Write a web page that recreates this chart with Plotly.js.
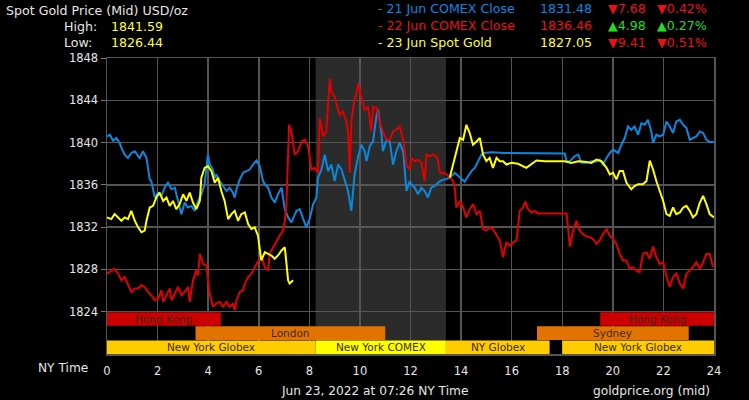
<!DOCTYPE html>
<html>
<head>
<meta charset="utf-8">
<script src="https://cdn.plot.ly/plotly-3.0.1.min.js"></script>
<style>
html,body{margin:0;padding:0;background:#000;}
#chart{width:749px;height:400px;}
</style>
</head>
<body>
<div id="chart"></div>
<script>
// ---- Data (NY time in hours, price USD/oz) ----
const blueHours = [0.00,0.11,0.24,0.37,0.50,0.57,0.70,0.83,0.96,1.10,1.23,1.29,1.42,1.56,1.62,1.69,1.75,1.82,1.89,2.02,2.15,2.28,2.41,2.55,2.68,2.81,2.94,3.07,3.20,3.34,3.47,3.60,3.73,3.86,3.93,3.99,4.06,4.19,4.26,4.32,4.46,4.59,4.72,4.85,4.98,5.05,5.12,5.25,5.38,5.51,5.64,5.77,5.91,6.04,6.17,6.24,6.37,6.50,6.63,6.76,6.90,7.03,7.16,7.29,7.49,7.62,7.75,7.88,8.01,8.15,8.28,8.34,8.48,8.61,8.74,8.87,9.00,9.14,9.27,9.40,9.53,9.66,9.79,9.93,10.06,10.19,10.26,10.39,10.52,10.66,10.72,10.85,10.91,11.05,11.18,11.31,11.44,11.57,11.71,11.84,11.97,12.03,12.17,12.30,12.43,12.56,12.69,12.82,12.96,13.09,13.22,13.35,13.55,13.75,13.95,14.14,14.28,14.41,14.54,14.67,14.80,14.93,15.20,15.73,16.39,17.04,18.10,18.17,18.30,18.49,18.63,18.76,18.95,19.15,19.35,19.48,19.61,19.75,19.88,20.01,20.21,20.34,20.47,20.60,20.73,20.86,21.00,21.13,21.26,21.39,21.52,21.59,21.72,21.85,21.99,22.12,22.25,22.38,22.51,22.65,22.78,22.91,23.04,23.17,23.30,23.44,23.57,23.70,23.83,24.00];
const blueValues = [1840.58,1840.74,1840.18,1840.43,1839.96,1839.49,1838.86,1838.55,1839.02,1839.18,1838.71,1838.55,1839.18,1838.55,1837.61,1836.52,1836.36,1835.42,1834.80,1835.26,1834.95,1835.73,1836.20,1835.58,1835.73,1834.48,1833.23,1834.33,1833.86,1834.01,1833.54,1834.48,1835.11,1836.05,1837.61,1838.86,1837.92,1837.45,1836.67,1836.99,1836.36,1835.89,1835.42,1835.73,1835.26,1834.80,1835.58,1836.52,1837.14,1837.30,1837.45,1837.92,1838.30,1837.77,1836.36,1836.05,1835.73,1834.80,1834.33,1835.11,1835.73,1833.70,1832.92,1832.45,1833.54,1833.70,1832.92,1831.98,1832.76,1834.17,1834.80,1836.67,1837.45,1838.86,1837.30,1837.92,1836.36,1837.92,1837.45,1836.52,1835.42,1833.54,1836.99,1838.71,1839.80,1839.18,1838.24,1839.65,1840.11,1842.62,1843.09,1840.90,1839.18,1840.27,1840.11,1837.92,1839.18,1839.96,1839.18,1835.42,1836.36,1836.05,1835.73,1835.11,1835.73,1835.42,1834.80,1835.73,1835.89,1836.20,1836.42,1836.52,1836.67,1837.14,1836.67,1836.30,1836.83,1837.30,1837.61,1838.24,1838.86,1839.02,1839.08,1839.02,1838.99,1838.96,1838.96,1838.24,1838.24,1838.71,1838.86,1838.08,1838.08,1838.24,1838.18,1838.39,1837.92,1838.55,1839.02,1839.33,1839.02,1839.80,1840.43,1841.52,1841.21,1841.52,1840.74,1841.84,1841.68,1842.15,1841.05,1839.96,1840.74,1840.58,1840.74,1841.99,1841.52,1840.90,1841.99,1842.15,1841.68,1841.37,1840.27,1840.43,1840.58,1841.05,1840.90,1840.27,1840.05,1840.05];

const redHours = [0.00,0.11,0.30,0.44,0.57,0.70,0.83,0.96,1.10,1.23,1.36,1.49,1.62,1.75,1.89,2.02,2.15,2.22,2.35,2.48,2.55,2.68,2.81,2.94,3.07,3.20,3.27,3.40,3.53,3.60,3.67,3.80,3.93,4.06,4.19,4.32,4.46,4.59,4.72,4.85,4.98,5.05,5.12,5.25,5.38,5.45,5.58,5.71,5.84,5.97,6.10,6.24,6.37,6.43,6.57,6.70,6.83,6.96,7.03,7.09,7.16,7.20,7.29,7.36,7.42,7.55,7.69,7.82,7.95,8.08,8.21,8.34,8.41,8.48,8.54,8.67,8.74,8.81,8.87,9.00,9.14,9.20,9.33,9.46,9.53,9.60,9.66,9.79,9.86,9.93,10.06,10.19,10.32,10.45,10.52,10.66,10.78,10.91,11.05,11.18,11.31,11.44,11.57,11.71,11.84,11.97,12.03,12.17,12.30,12.43,12.56,12.63,12.76,12.89,13.02,13.09,13.16,13.29,13.42,13.55,13.68,13.75,13.81,13.95,14.08,14.21,14.34,14.47,14.61,14.74,14.87,15.00,15.13,15.26,15.40,15.53,15.66,15.79,15.93,16.06,16.19,16.32,16.45,16.54,16.65,16.78,16.91,17.04,17.57,18.17,18.23,18.30,18.43,18.56,18.69,18.89,19.09,19.22,19.35,19.48,19.61,19.75,19.88,20.01,20.14,20.27,20.40,20.54,20.67,20.80,20.93,21.06,21.19,21.33,21.46,21.59,21.72,21.85,21.99,22.12,22.25,22.38,22.51,22.65,22.78,22.91,23.04,23.17,23.30,23.44,23.57,23.70,23.83,23.96];
const redValues = [1827.60,1827.75,1828.06,1827.60,1826.97,1827.28,1826.50,1825.87,1826.19,1826.19,1826.50,1826.34,1825.87,1825.56,1825.09,1825.25,1826.03,1824.93,1825.56,1826.19,1825.09,1825.72,1826.34,1825.56,1825.87,1826.34,1824.93,1826.97,1827.91,1827.44,1829.47,1828.53,1828.38,1825.72,1824.47,1824.78,1824.93,1824.47,1824.93,1824.47,1824.78,1824.15,1825.09,1825.87,1826.03,1826.66,1827.28,1827.60,1828.22,1828.85,1829.32,1828.22,1827.91,1829.47,1830.10,1830.73,1831.20,1831.67,1832.60,1833.86,1838.86,1841.68,1841.05,1839.80,1838.86,1839.18,1840.11,1840.27,1839.65,1837.45,1837.61,1837.14,1842.31,1841.52,1840.58,1841.05,1844.19,1846.06,1844.81,1844.34,1843.09,1842.62,1842.93,1841.99,1841.05,1837.14,1841.99,1844.19,1844.50,1845.59,1844.19,1843.09,1843.40,1841.05,1843.40,1843.25,1841.99,1841.05,1840.27,1840.27,1841.05,1841.21,1841.52,1840.27,1837.92,1837.45,1838.55,1838.24,1838.39,1838.08,1836.36,1838.86,1838.71,1838.86,1838.71,1838.24,1837.14,1837.14,1836.99,1836.67,1836.36,1835.73,1833.86,1834.48,1833.86,1832.92,1833.70,1834.17,1833.23,1833.54,1831.82,1831.67,1831.98,1831.82,1831.20,1830.73,1829.16,1830.57,1830.26,1830.57,1830.73,1833.54,1833.86,1834.42,1833.70,1833.39,1833.54,1833.29,1833.29,1833.29,1831.98,1830.16,1831.67,1832.60,1831.67,1831.20,1831.04,1830.88,1830.41,1830.73,1831.36,1831.82,1831.20,1830.88,1830.41,1829.47,1828.85,1828.85,1828.06,1828.22,1827.91,1827.75,1829.47,1829.63,1829.01,1830.16,1829.16,1828.53,1828.69,1827.28,1826.34,1827.28,1827.60,1826.66,1826.19,1827.60,1827.91,1828.22,1828.69,1828.06,1828.69,1829.47,1829.47,1828.22];

const yellowHours = [0.00,0.17,0.30,0.44,0.57,0.70,0.83,0.96,1.10,1.23,1.36,1.49,1.56,1.69,1.82,1.95,2.08,2.22,2.35,2.48,2.61,2.74,2.87,3.01,3.14,3.27,3.40,3.53,3.67,3.73,3.86,3.99,4.13,4.26,4.39,4.52,4.65,4.79,4.92,5.05,5.18,5.31,5.45,5.58,5.71,5.84,5.97,6.10,6.24,6.37,6.50,6.63,6.76,6.90,7.03,7.09,7.16,7.22,7.36,null,13.55,13.68,13.81,13.95,14.08,14.21,14.34,14.47,14.61,14.74,14.87,15.00,15.13,15.26,15.40,15.53,15.66,15.79,15.99,16.25,16.58,16.78,16.98,17.31,18.10,18.36,18.63,18.89,19.15,19.35,19.55,19.75,19.88,20.01,20.14,20.27,20.40,20.54,20.73,20.86,21.00,21.19,21.33,21.46,21.59,21.72,21.85,21.99,22.12,22.25,22.38,22.51,22.65,22.78,22.91,23.04,23.17,23.30,23.44,23.57,23.70,23.83,24.00];
const yellowValues = [1832.92,1832.76,1833.23,1832.92,1832.60,1832.92,1832.76,1833.54,1832.60,1831.98,1831.51,1831.67,1832.60,1833.86,1834.01,1834.80,1835.26,1834.48,1834.80,1834.01,1834.48,1833.70,1834.17,1835.11,1834.48,1835.26,1834.33,1833.70,1834.48,1836.67,1837.61,1837.77,1837.30,1836.20,1836.67,1835.42,1834.48,1832.76,1833.23,1833.54,1832.60,1833.23,1833.39,1832.29,1831.82,1831.98,1831.20,1828.85,1829.63,1829.47,1829.32,1829.01,1829.32,1829.79,1830.10,1828.69,1826.97,1826.66,1826.97,null,1836.67,1837.92,1839.18,1840.43,1840.27,1841.68,1840.90,1839.80,1840.11,1840.43,1838.86,1838.24,1838.55,1837.61,1838.55,1838.24,1838.24,1837.92,1838.08,1837.99,1837.61,1837.92,1838.30,1838.24,1838.24,1838.08,1838.24,1838.18,1838.08,1838.39,1838.24,1837.61,1836.99,1837.14,1836.52,1837.30,1837.30,1836.20,1835.58,1835.89,1836.05,1836.05,1836.36,1838.30,1837.45,1836.36,1835.42,1834.48,1833.23,1833.07,1833.86,1833.23,1833.39,1833.86,1834.01,1833.54,1832.92,1833.23,1834.33,1834.95,1834.17,1833.23,1832.92];

// Trading sessions (NY time hours), row 0 = top
const sessionNames = ['Hong Kong','Hong Kong','London','Sydney','New York Globex','New York COMEX','NY Globex','New York Globex'];
const sessionStart = [0, 19.5, 3.5, 17, 0, 8.25, 13.4, 18];
const sessionEnd   = [4.5, 24, 11, 23, 8.25, 13.4, 17.5, 24];
const sessionRow   = [0, 0, 1, 1, 2, 2, 2, 2];
const comexWindow  = [8.25, 13.4];

const yTicks = [1824, 1828, 1832, 1836, 1840, 1844, 1848];
const xTicks = [0, 2, 4, 6, 8, 10, 12, 14, 16, 18, 20, 22, 24];

// Header texts
const headerTitle = 'Spot Gold Price (Mid) USD/oz';
const highLabel = 'High:', highValue = '1841.59';
const lowLabel = 'Low:', lowValue = '1826.44';
const legendNames = ['- 21 Jun COMEX Close', '- 22 Jun COMEX Close', '- 23 Jun Spot Gold'];
const legendPrices = ['1831.48', '1836.46', '1827.05'];
const legendChanges = ['\u25BC7.68', '\u25B24.98', '\u25BC9.41'];
const legendPcts = ['\u25BC0.42%', '\u25B20.27%', '\u25BC0.51%'];
const footerText = 'Jun 23, 2022 at 07:26 NY Time';
const sourceText = 'goldprice.org (mid)';

// ---- Styling ----
const BLUE = '#0a88e0', RED = '#e00000', YELLOW = '#ffff00';
const FONT = 'DejaVu Sans, Verdana, sans-serif';
const sessionColor = {'Hong Kong':'#cc0000','London':'#e37300','Sydney':'#e37300',
  'New York Globex':'#ffcc00','NY Globex':'#ffcc00','New York COMEX':'#ffff00'};

const L = 107, R = 714, T = 58, B = 354;
const px = x => (x - L) / (R - L);
const py = y => (B - y) / (B - T);

const traces = [
  {x: blueHours, y: blueValues, mode: 'lines', line: {color: BLUE, width: 2}, hoverinfo: 'skip'},
  {x: redHours, y: redValues, mode: 'lines', line: {color: RED, width: 2}, hoverinfo: 'skip'},
  {x: yellowHours, y: yellowValues, mode: 'lines', line: {color: YELLOW, width: 2}, connectgaps: false, hoverinfo: 'skip'}
];

const rowH = 4 / 3;
const shapes = [{
  type: 'rect', xref: 'x', yref: 'y', x0: comexWindow[0], x1: comexWindow[1], y0: 1820, y1: 1848,
  fillcolor: '#2b2b2b', line: {width: 0}, layer: 'below'
}];
const annotations = [];
sessionNames.forEach((n, i) => {
  const top = 1824 - sessionRow[i] * rowH;
  shapes.push({type: 'rect', xref: 'x', yref: 'y', x0: sessionStart[i], x1: sessionEnd[i],
    y0: top - rowH, y1: top - 0.05, fillcolor: sessionColor[n], line: {width: 0}, layer: 'above'});
  annotations.push({xref: 'x', yref: 'y', x: (sessionStart[i] + sessionEnd[i]) / 2, y: top - rowH / 2,
    text: n, showarrow: false, font: {family: FONT, size: 10.5, color: '#3a2a10'}, xanchor: 'center', yanchor: 'middle'});
});

function txt(x, y, text, color, anchor, size) {
  annotations.push({xref: 'paper', yref: 'paper', x: px(x), y: py(y), text: text, showarrow: false,
    xanchor: anchor || 'left', yanchor: 'middle', font: {family: FONT, size: size || 12.6, color: color}});
}
const TXT = '#e6e6e6';
txt(4, 10, headerTitle, TXT);
txt(62, 26, highLabel, TXT);
txt(109, 26, highValue, '#ffff33');
txt(62, 42, lowLabel, TXT);
txt(109, 42, lowValue, '#ffff33');
const legendColors = [BLUE, '#ee1111', '#ffff33'];
const chgColor = s => s.indexOf('\u25B2') === 0 ? '#22dd22' : '#ee1111';
[9, 25, 42].forEach((y, i) => {
  txt(376, y, legendNames[i], legendColors[i]);
  txt(594, y, legendPrices[i], legendColors[i], 'right');
  txt(648, y, legendChanges[i], chgColor(legendChanges[i]), 'right');
  txt(709, y, legendPcts[i], chgColor(legendPcts[i]), 'right');
});
txt(90, 368, 'NY Time', TXT, 'right', 12.2);
txt(374, 391, footerText, TXT, 'center', 12.2);
txt(712, 391, sourceText, TXT, 'right', 12.2);

const layout = {
  width: 749, height: 400,
  paper_bgcolor: '#000', plot_bgcolor: '#000',
  margin: {l: L, r: 749 - R, t: T, b: 400 - B, pad: 0},
  showlegend: false,
  font: {family: FONT, color: TXT, size: 12},
  xaxis: {range: [0, 24], tickvals: xTicks, ticktext: xTicks.map(String), showgrid: true,
    gridcolor: '#555', gridwidth: 1.5, zeroline: false, showline: true, mirror: true, linecolor: '#555', linewidth: 1.5,
    ticks: '', tickfont: {family: FONT, size: 11.5, color: TXT}, ticklabelstandoff: 6, fixedrange: true},
  yaxis: {range: [1820, 1848], tickvals: yTicks, ticktext: yTicks.map(String), showgrid: true,
    gridcolor: '#555', gridwidth: 1.5, zeroline: false, showline: true, mirror: true, linecolor: '#555', linewidth: 1.5,
    ticks: 'outside', ticklen: 5, tickcolor: '#777', tickfont: {family: FONT, size: 11.5, color: TXT}, fixedrange: true},
  shapes: shapes,
  annotations: annotations
};

Plotly.newPlot('chart', traces, layout, {staticPlot: true, displayModeBar: false});
</script>
</body>
</html>
